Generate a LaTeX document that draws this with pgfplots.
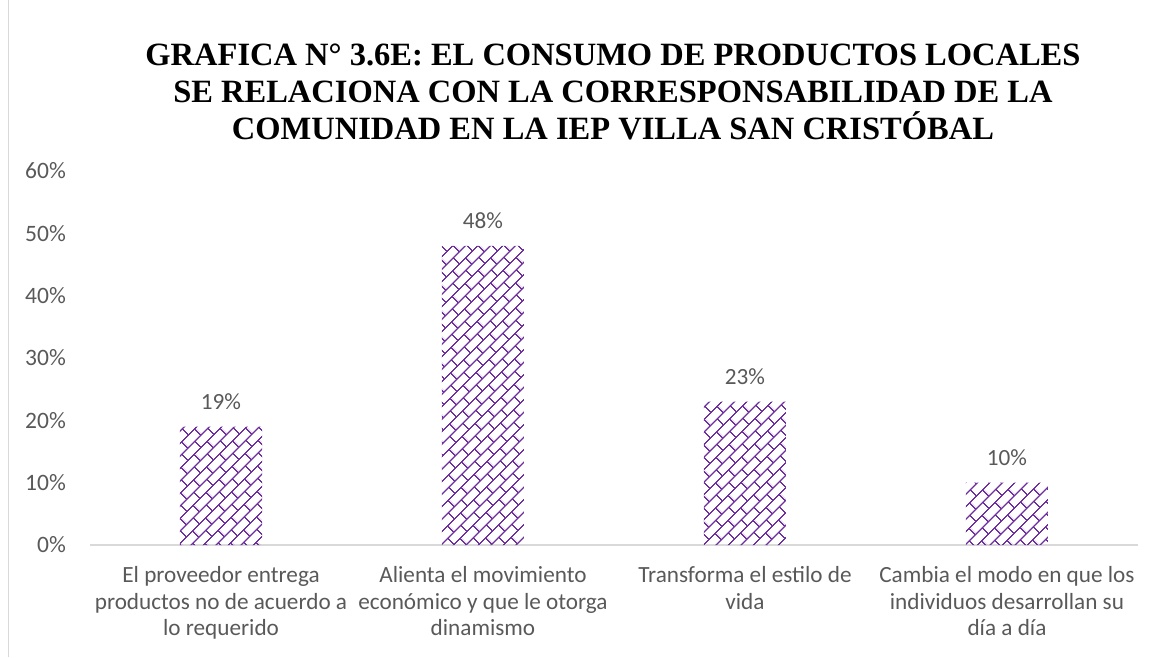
\documentclass[border=0pt]{standalone}
\usepackage{pgfplots}
\pgfplotsset{compat=1.18}
\usepackage{fontspec}
\setmainfont{Carlito}
\newfontfamily\titlefont{Liberation Serif}
\usetikzlibrary{patterns.meta}
\definecolor{barpurple}{HTML}{7030A0}
\definecolor{txtgray}{HTML}{595959}
\definecolor{axgray}{HTML}{D9D9D9}
\tikzdeclarepattern{
  name=diagbrick,
  type=colored,
  bounding box={(0pt,0pt) and (18pt,18pt)},
  tile size={(18pt,18pt)},
  tile transformation={rotate=45},
  code={
    \draw[barpurple, line width=1.4pt] (0pt,0.7pt) -- (18pt,0.7pt);
    \draw[barpurple, line width=1.4pt] (0pt,9.7pt) -- (18pt,9.7pt);
    \draw[barpurple, line width=1.4pt] (0.7pt,0.7pt) -- (0.7pt,9.7pt);
    \draw[barpurple, line width=1.4pt] (9.7pt,9.7pt) -- (9.7pt,18pt);
  }
}
\begin{document}
\begin{tikzpicture}[x=1pt,y=1pt]
\path[use as bounding box] (0,0) rectangle (1166,657);
\draw[axgray, line width=1.2pt] (8.5,0) -- (8.5,657);
\node[align=center, font={\titlefont\bfseries\fontsize{32.5}{37}\selectfont}, anchor=base] at (613,517) {GRAFICA N° 3.6E: EL CONSUMO DE PRODUCTOS LOCALES\\SE RELACIONA CON LA CORRESPONSABILIDAD DE LA\\COMUNIDAD EN LA IEP VILLA SAN CRISTÓBAL};
\begin{axis}[
  at={(90pt,112pt)}, anchor=south west,
  scale only axis, width=1048pt, height=374pt,
  xmin=-0.5, xmax=3.5, ymin=0, ymax=60,
  ytick={0,10,...,60},
  yticklabel={\pgfmathprintnumber{\tick}\%},
  /pgf/number format/assume math mode=true,
  xtick=data,
  xticklabels={{El proveedor entrega\\productos no de acuerdo a\\lo requerido},
    {Alienta el movimiento\\económico y que le otorga\\dinamismo},
    {Transforma el estilo de\\vida},
    {Cambia el modo en que los\\individuos desarrollan su\\día a día}},
  major tick length=0pt,
  axis lines=left,
  axis line style={-},
  x axis line style={axgray, line width=1.2pt},
  y axis line style={draw=none},
  yticklabel style={font=\fontsize{23.5}{27}\selectfont, text=txtgray, anchor=east, inner sep=0pt, xshift=-24pt},
  xticklabel style={font=\fontsize{23.2}{26.8}\selectfont, text=txtgray, align=center, anchor=north, inner sep=0pt, yshift=-21pt},
  ybar, bar width=0.313,
  nodes near coords={\pgfmathprintnumber{\pgfplotspointmeta}\%},
  nodes near coords style={font=\fontsize{23.2}{27}\selectfont, text=txtgray, anchor=south, inner sep=0pt, yshift=17pt},
  clip=false,
]
\addplot[draw=none, pattern={diagbrick}] coordinates {(0,19) (1,48) (2,23) (3,10)};
\end{axis}
\end{tikzpicture}
\end{document}
